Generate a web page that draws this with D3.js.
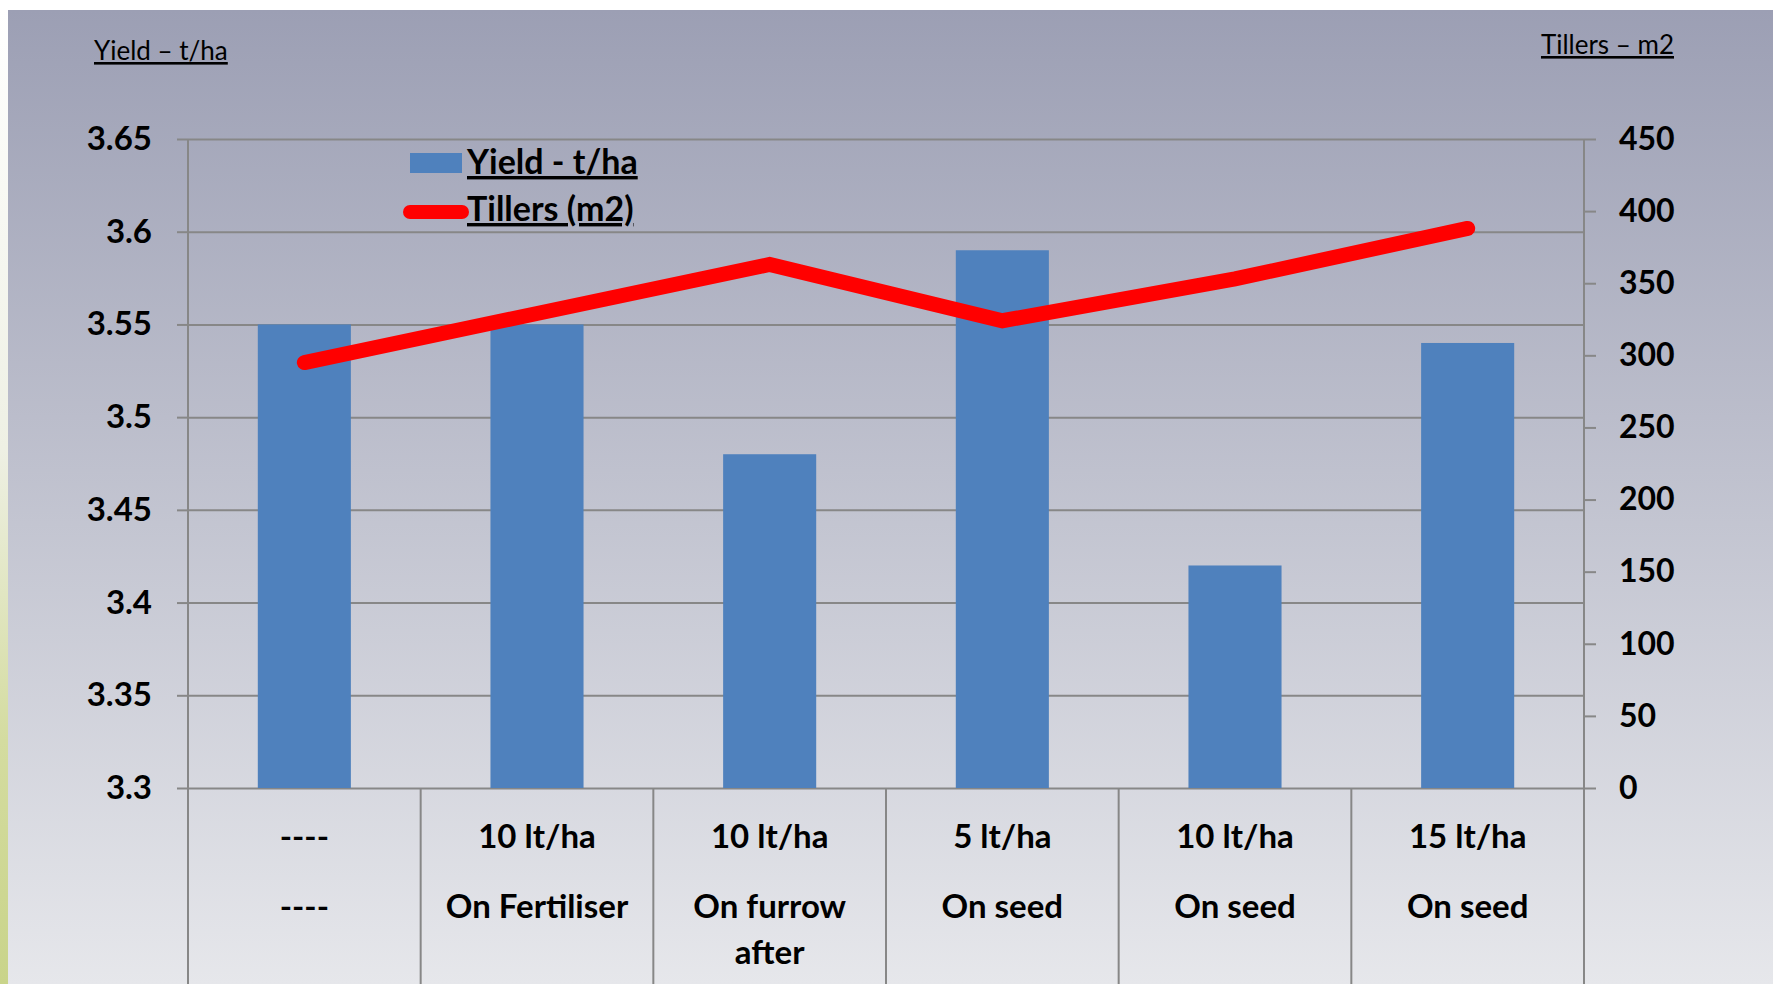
<!DOCTYPE html>
<html>
<head>
<meta charset="utf-8">
<script src="https://cdn.jsdelivr.net/npm/d3@7"></script>
<style>
  html, body { margin: 0; padding: 0; background: #ffffff; }
  svg { display: block; font-family: Lato, "Open Sans", sans-serif; }
</style>
</head>
<body>
<script>

// chart values
var categoriesTop = ["----", "10 lt/ha", "10 lt/ha", "5 lt/ha", "10 lt/ha", "15 lt/ha"];
var categoriesBottom = [["----"], ["On Fertiliser"], ["On furrow", "after"], ["On seed"], ["On seed"], ["On seed"]];
var yieldValues = [3.55, 3.55, 3.48, 3.59, 3.42, 3.54];
var tillerValues = [295, 329, 363, 324, 353, 388];
var yieldTicks = [3.3, 3.35, 3.4, 3.45, 3.5, 3.55, 3.6, 3.65];
var tillerTicks = [0, 50, 100, 150, 200, 250, 300, 350, 400, 450];

var W = 1773, H = 984;
var plotLeft = 188, plotRight = 1584, plotTop = 139, plotBottom = 788;

var svg = d3.select("body")
  .append("svg")
  .attr("width", W)
  .attr("height", H);

var defs = svg.append("defs");
var bg = defs.append("linearGradient")
  .attr("id", "bg").attr("x1", 0).attr("y1", 0).attr("x2", 0).attr("y2", 1);
bg.append("stop").attr("offset", "0%").attr("stop-color", "#9c9fb4");
bg.append("stop").attr("offset", "100%").attr("stop-color", "#e6e7eb");

var grass = defs.append("linearGradient")
  .attr("id", "grass").attr("x1", 0).attr("y1", 0).attr("x2", 0).attr("y2", 1);
grass.append("stop").attr("offset", "0%").attr("stop-color", "#ffffff");
grass.append("stop").attr("offset", "45%").attr("stop-color", "#eef0e4");
grass.append("stop").attr("offset", "75%").attr("stop-color", "#d4dca0");
grass.append("stop").attr("offset", "100%").attr("stop-color", "#c9d48a");

svg.append("rect").attr("width", W).attr("height", H).attr("fill", "#ffffff");
svg.append("rect").attr("x", 0).attr("y", 10).attr("width", 8).attr("height", H - 10).attr("fill", "url(#grass)");
svg.append("rect").attr("x", 8).attr("y", 10).attr("width", W - 8).attr("height", H - 10).attr("fill", "url(#bg)");

var xScale = d3.scaleBand()
  .domain(d3.range(categoriesTop.length))
  .range([plotLeft, plotRight])
  .paddingInner(0.6)
  .paddingOuter(0.3);

var yScale = d3.scaleLinear()
  .domain([3.3, 3.65])
  .range([plotBottom, plotTop]);

var y2Scale = d3.scaleLinear()
  .domain([0, 450])
  .range([plotBottom, plotTop]);

var gridColor = "#878787";

// gridlines
var grid = svg.append("g")
  .attr("transform", `translate(${plotLeft},0)`)
  .call(d3.axisLeft(yScale).tickValues(yieldTicks).tickSize(-(plotRight - plotLeft)).tickFormat(""));
grid.select(".domain").remove();
grid.selectAll("line").attr("stroke", gridColor).attr("stroke-width", 2);

// category divider lines under the plot
var step = xScale.step();
svg.append("g")
  .selectAll("line")
  .data(d3.range(categoriesTop.length + 1))
  .enter()
  .append("line")
    .attr("x1", function(d) { return plotLeft + d * step; })
    .attr("x2", function(d) { return plotLeft + d * step; })
    .attr("y1", plotBottom)
    .attr("y2", H)
    .attr("stroke", gridColor)
    .attr("stroke-width", 2);

// bars
svg.append("g")
  .selectAll("rect")
  .data(yieldValues)
  .enter()
  .append("rect")
    .attr("x", function(d, i) { return xScale(i); })
    .attr("y", function(d) { return yScale(d); })
    .attr("width", xScale.bandwidth())
    .attr("height", function(d) { return plotBottom - yScale(d); })
    .attr("fill", "#4f81bd");

// left axis
var yAxis = svg.append("g")
  .attr("transform", `translate(${plotLeft},0)`)
  .call(d3.axisLeft(yScale).tickValues(yieldTicks).tickSize(11).tickPadding(25).tickFormat(d3.format("")));
yAxis.select(".domain").attr("stroke", gridColor).attr("stroke-width", 2).attr("d", `M0,${plotTop}V${H}`);
yAxis.selectAll("line").attr("stroke", gridColor).attr("stroke-width", 2);
yAxis.selectAll("text")
  .attr("fill", "#000")
  .style("font-size", "33px")
  .style("font-weight", "bold")
  .style("font-family", "Lato, sans-serif");

// right axis
var y2Axis = svg.append("g")
  .attr("transform", `translate(${plotRight},0)`)
  .call(d3.axisRight(y2Scale).tickValues(tillerTicks).tickSize(12).tickPadding(23));
y2Axis.select(".domain").attr("stroke", gridColor).attr("stroke-width", 2).attr("d", `M0,${plotTop}V${H}`);
y2Axis.selectAll("line").attr("stroke", gridColor).attr("stroke-width", 2);
y2Axis.selectAll("text")
  .attr("fill", "#000")
  .style("font-size", "32px")
  .style("font-weight", "bold")
  .style("font-family", "Lato, sans-serif");

// tillers line
var line = d3.line()
  .x(function(d, i) { return xScale(i) + xScale.bandwidth() / 2; })
  .y(function(d) { return y2Scale(d); });

svg.append("path")
  .datum(tillerValues)
  .attr("d", line)
  .attr("fill", "none")
  .attr("stroke", "#ff0000")
  .attr("stroke-width", 15)
  .attr("stroke-linejoin", "miter")
  .attr("stroke-linecap", "round");

// category labels
var labels = svg.append("g")
  .style("font-size", "33px")
  .style("font-weight", "bold")
  .attr("text-anchor", "middle")
  .attr("fill", "#000");

labels.selectAll("text.top")
  .data(categoriesTop)
  .enter()
  .append("text")
    .attr("class", "top")
    .attr("x", function(d, i) { return xScale(i) + xScale.bandwidth() / 2; })
    .attr("y", 848)
    .text(function(d) { return d; });

categoriesBottom.forEach(function(lines, i) {
  lines.forEach(function(t, j) {
    labels.append("text")
      .attr("x", xScale(i) + xScale.bandwidth() / 2)
      .attr("y", 918 + j * 46)
      .text(t);
  });
});

// axis titles
svg.append("text")
  .attr("x", 94)
  .attr("y", 60)
  .style("font-size", "26px")
  .style("text-decoration", "underline")
  .attr("fill", "#000")
  .text("Yield \u2013 t/ha");

svg.append("text")
  .attr("x", 1674)
  .attr("y", 54)
  .attr("text-anchor", "end")
  .style("font-size", "26px")
  .style("text-decoration", "underline")
  .attr("fill", "#000")
  .text("Tillers \u2013 m2");

// legend
var legend = svg.append("g");
legend.append("rect")
  .attr("x", 410).attr("y", 153)
  .attr("width", 52).attr("height", 20)
  .attr("fill", "#4f81bd");
legend.append("line")
  .attr("x1", 410).attr("x2", 462)
  .attr("y1", 212).attr("y2", 212)
  .attr("stroke", "#ff0000")
  .attr("stroke-width", 14)
  .attr("stroke-linecap", "round");
legend.append("text")
  .attr("x", 467).attr("y", 174)
  .style("font-size", "34px").style("font-weight", "bold")
  .style("text-decoration", "underline")
  .attr("fill", "#000")
  .text("Yield - t/ha");
legend.append("text")
  .attr("x", 467).attr("y", 221)
  .style("font-size", "34px").style("font-weight", "bold")
  .style("text-decoration", "underline")
  .attr("fill", "#000")
  .text("Tillers (m2)");

</script>
</body>
</html>
